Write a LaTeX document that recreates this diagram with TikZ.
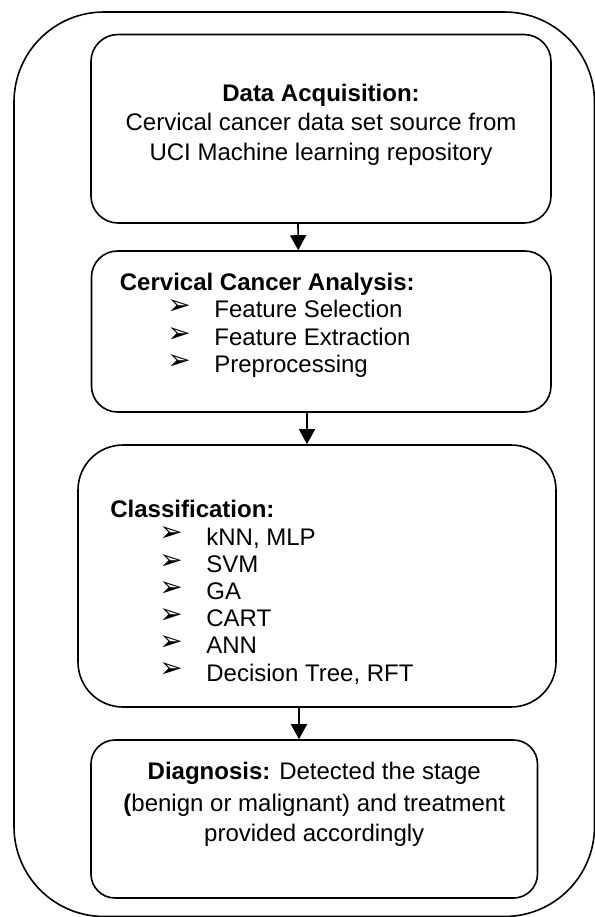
\documentclass[tikz,border=0pt]{standalone}
\usepackage{fontspec}
\setmainfont{Liberation Sans}
\newfontfamily\symfont{DejaVu Sans}
\usetikzlibrary{arrows.meta}
\tikzset{
  box/.style={draw,line width=0.8pt,inner sep=0pt},
  txt/.style={inner sep=0pt,anchor=base,font=\fontsize{12pt}{14pt}\selectfont},
  head/.style={txt,anchor=base west,font=\fontsize{12pt}{14pt}\selectfont\bfseries},
  item/.style={txt,anchor=base west},
  bul/.style={inner sep=0pt,anchor=west,font=\fontsize{14pt}{16pt}\symfont},
  arr/.style={line width=0.8pt,-{Triangle[length=7.5pt,width=8pt]}}
}
\begin{document}
\begin{tikzpicture}[x=0.5pt,y=-0.5pt]
  \useasboundingbox (0,0) rectangle (595,917);
  % frame and the four stages
  \node[box,minimum width=290.25pt,minimum height=452.25pt,rounded corners=45pt] (frame) at (304.25,464.25) {};
  \node[box,minimum width=230pt,minimum height=94.25pt,rounded corners=13.5pt] (acq) at (321,128.75) {};
  \node[box,minimum width=229.75pt,minimum height=80.5pt,rounded corners=13pt] (ana) at (321.25,331.5) {};
  \node[box,minimum width=239pt,minimum height=131pt,rounded corners=22.5pt] (cls) at (317,576) {};
  \node[box,minimum width=223.25pt,minimum height=79pt,rounded corners=12pt] (diag) at (314.25,819) {};
  % arrows
  \draw[arr] ([xshift=-11.5pt]acq.south) -- ([xshift=-11.5pt]ana.north);
  \draw[arr] ([xshift=-7.125pt]ana.south) -- ([xshift=-5pt]cls.north);
  \draw[arr] ([xshift=-9pt]cls.south) -- ([xshift=-7.625pt]diag.north);
  % data acquisition
  \node[txt] (acq-head) at (321,101.7) {\textbf{Data Acquisition:}};
  \node[txt] (acq-l1) at (321,130.7) {Cervical cancer data set source from};
  \node[txt] (acq-l2) at (321,160) {UCI Machine learning repository};
  % analysis
  \node[head] (ana-head) at (119.5,290) {Cervical Cancer Analysis:};
  \foreach \t [count=\i] in {Feature Selection,Feature Extraction,Preprocessing}{
    \node[bul] (ana-b\i) at (167,{317.5+27.6*(\i-1)-10.5}) {➢};
    \node[item] (ana-i\i) at (214,{317.5+27.6*(\i-1)}) {\t};
  }
  % classification
  \node[head] (cls-head) at (110,517) {Classification:};
  \foreach \t [count=\i] in {{kNN, MLP},SVM,GA,CART,ANN,{Decision Tree, RFT}}{
    \node[bul] (cls-b\i) at (159,{545+27.2*(\i-1)-10.5}) {➢};
    \node[item] (cls-i\i) at (206,{545+27.2*(\i-1)}) {\t};
  }
  % diagnosis
  \node[txt] (diag-l1) at (314.25,779) {\textbf{Diagnosis:} Detected the stage};
  \node[txt] (diag-l2) at (314.25,811) {\textbf{(}benign or malignant) and treatment};
  \node[txt] (diag-l3) at (314.25,841) {provided accordingly};
\end{tikzpicture}
\end{document}
